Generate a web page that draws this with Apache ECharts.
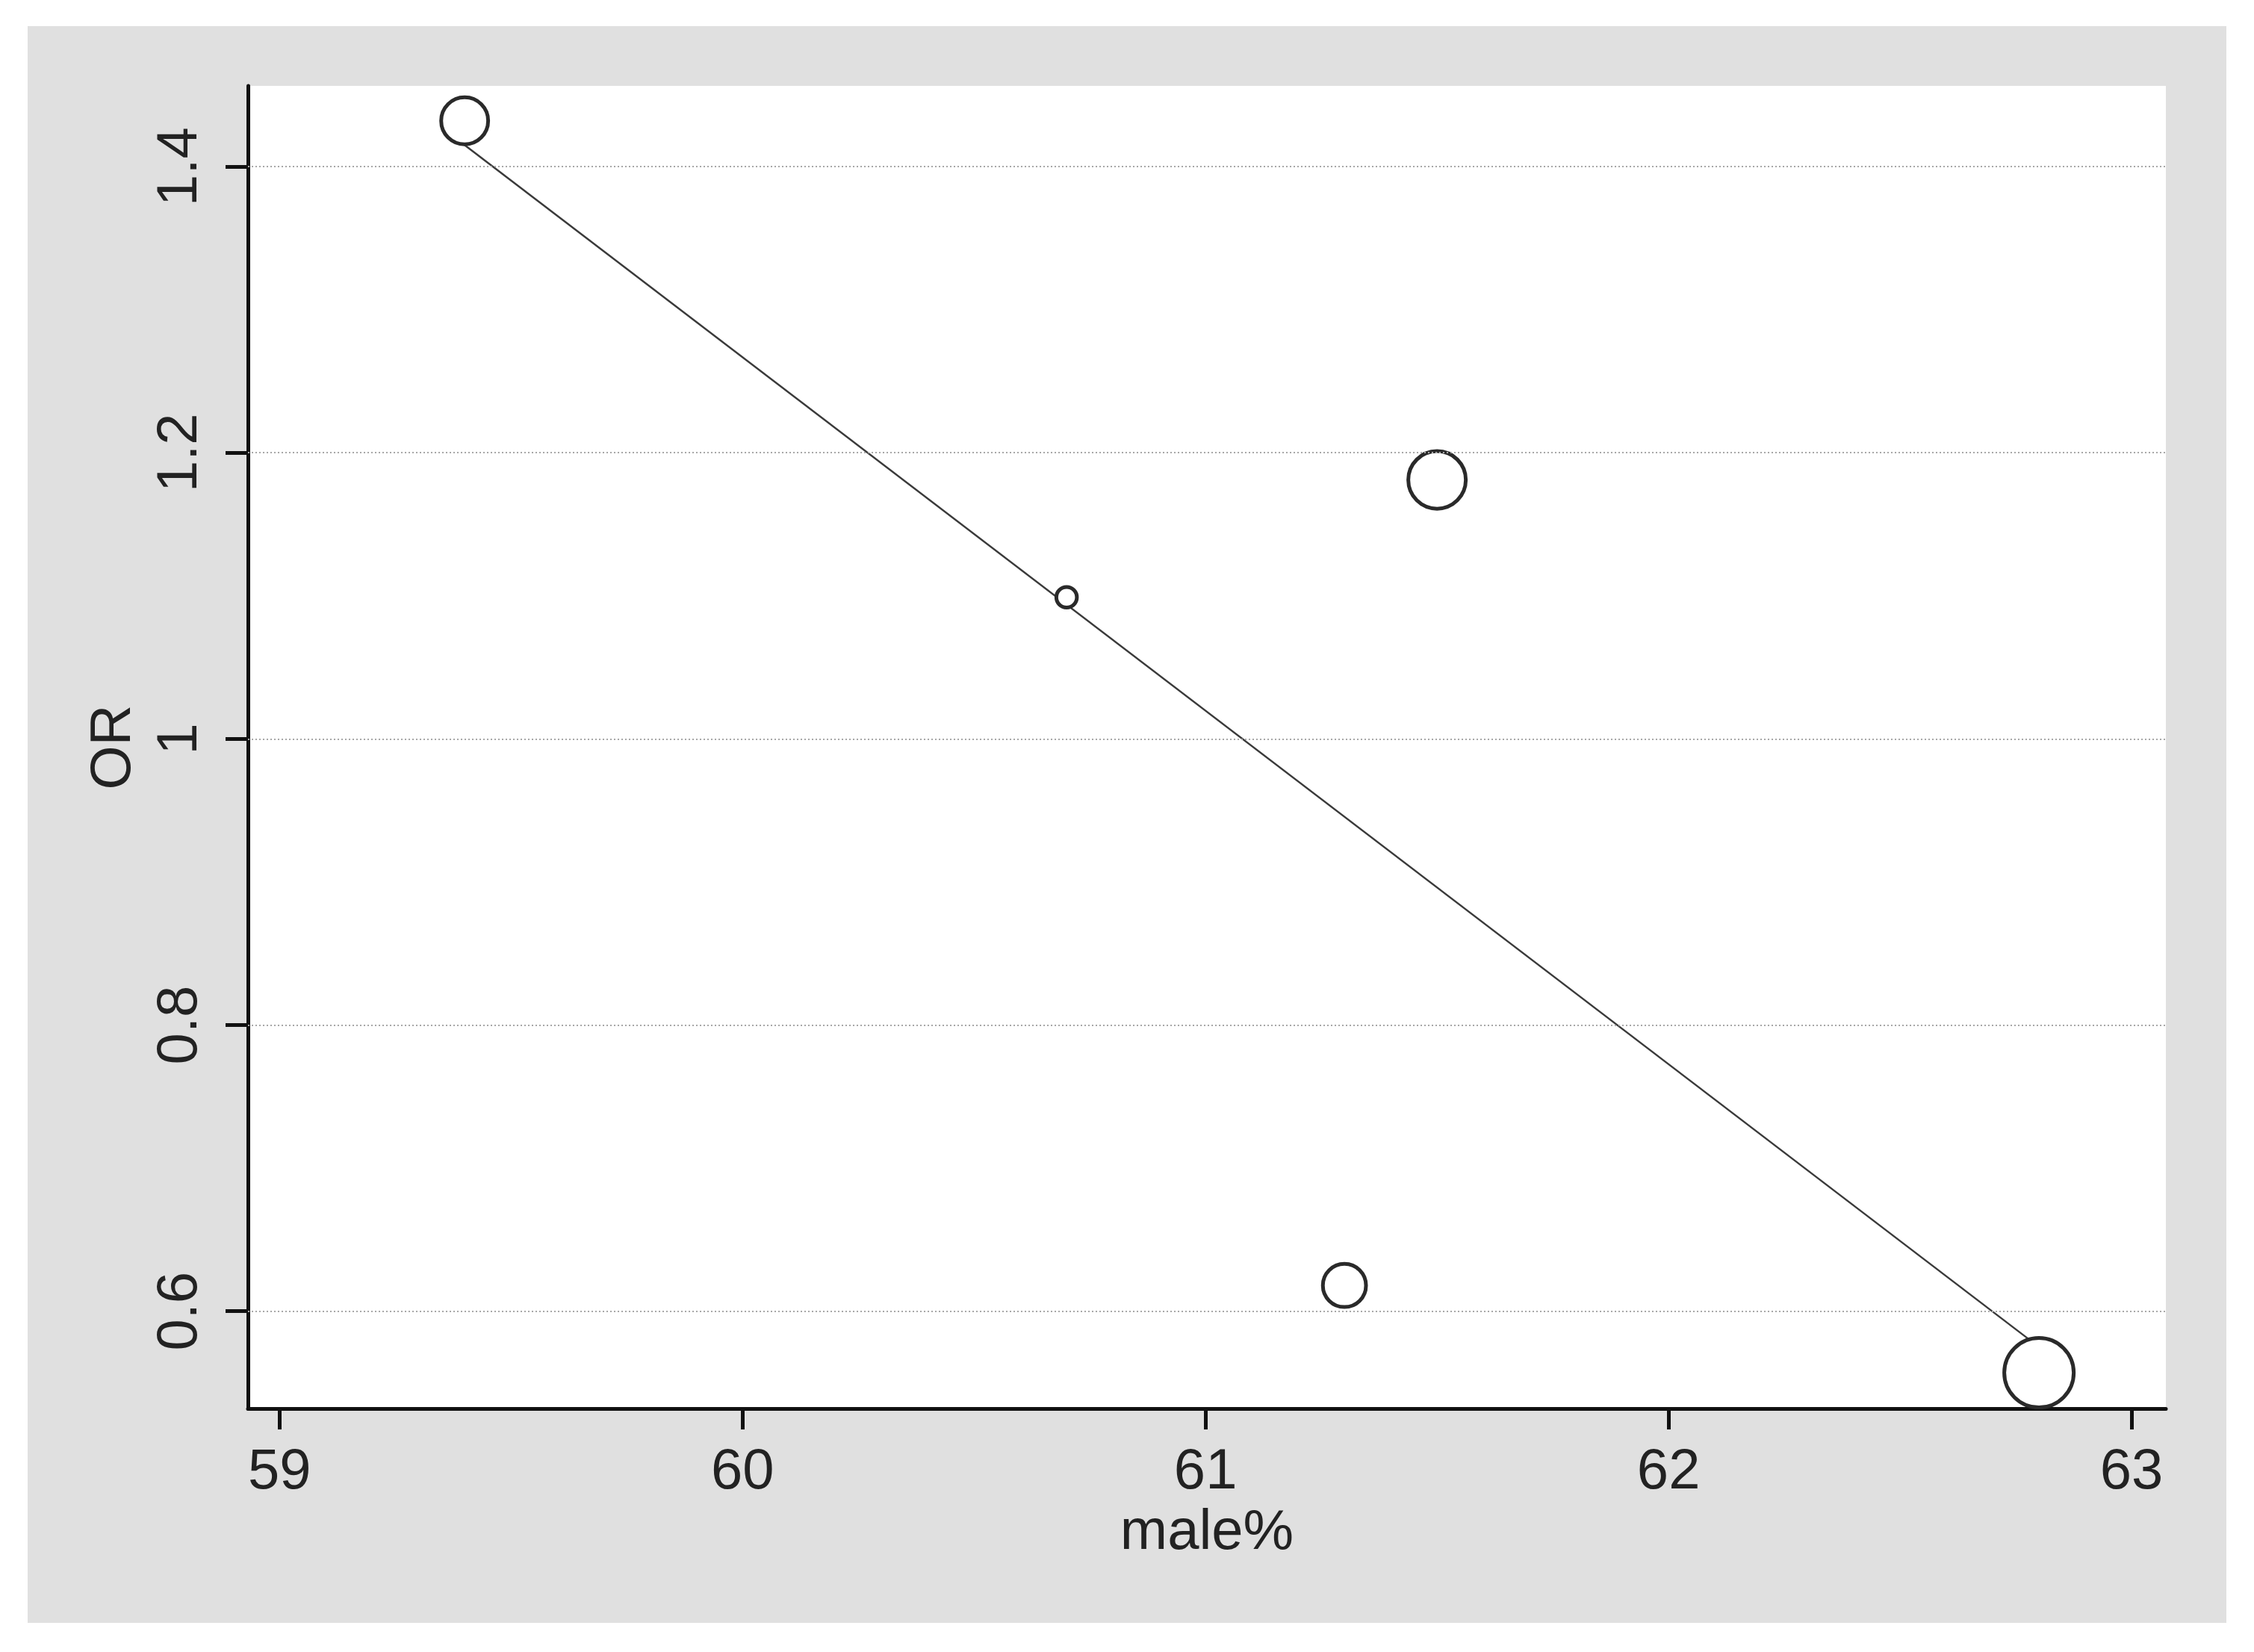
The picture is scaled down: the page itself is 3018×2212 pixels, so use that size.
<!DOCTYPE html>
<html>
<head>
<meta charset="utf-8">
<script src="https://cdn.jsdelivr.net/npm/echarts@6/dist/echarts.min.js"></script>
<style>
    html, body { margin: 0; padding: 0; background: #fff; }
    #chart { position: absolute; left: 37px; top: 35px; width: 2944px; height: 2138px; }
</style>
</head>
<body>
<div id="chart"></div>
<script>
// meta-regression: OR vs male%, marker size ~ study weight
var malePct = [59.4, 60.7, 61.5, 61.3, 62.8];
var orValues = [1.432, 1.099, 1.181, 0.618, 0.557];
var weights = [4.8, 1.1, 7.0, 4.1, 10.0];

// fitted line end points
var fitX = [59.4, 62.8];
var fitY = [1.415, 0.575];

var xTicks = [59, 60, 61, 62, 63];
var yTicks = [0.6, 0.8, 1, 1.2, 1.4];

var font = "'Liberation Sans', Arial, sans-serif";

var myChart = echarts.init(document.getElementById('chart'));

var points = malePct.map(function (x, i) { return [x, orValues[i], weights[i]]; });
var fitData = fitX.map(function (x, i) { return [x, fitY[i]]; });

option = {
    backgroundColor: '#e0e0e0',
    animation: false,
    grid: {
        left: 295,
        top: 80,
        right: 81,
        bottom: 287,
        show: true,
        backgroundColor: '#fff',
        borderWidth: 0,
        containLabel: false
    },
    xAxis: {
        type: 'value',
        min: 58.932,
        max: 63.074,
        name: 'male%',
        nameLocation: 'middle',
        nameGap: 107,
        nameTextStyle: { fontFamily: font, fontSize: 76, color: '#222' },
        axisLine: { onZero: false, lineStyle: { color: '#111', width: 5 } },
        axisTick: { show: true, length: 28, lineStyle: { color: '#111', width: 5 }, customValues: xTicks },
        axisLabel: { margin: 48, fontFamily: font, fontSize: 76, color: '#222', customValues: xTicks },
        splitLine: { show: false }
    },
    yAxis: {
        type: 'value',
        min: 0.532,
        max: 1.4564,
        name: 'OR',
        nameLocation: 'middle',
        nameRotate: 90,
        nameGap: 141,
        nameTextStyle: { fontFamily: font, fontSize: 76, color: '#222' },
        axisLine: { show: true, onZero: false, lineStyle: { color: '#111', width: 5 } },
        axisTick: { show: true, length: 30, lineStyle: { color: '#111', width: 5 }, customValues: yTicks },
        axisLabel: { rotate: 90, margin: 52, fontFamily: font, fontSize: 76, color: '#222', customValues: yTicks },
        splitLine: { show: false }
    },
    series: [
        {
            name: 'fit',
            type: 'line',
            data: fitData,
            symbol: 'none',
            z: 2,
            lineStyle: { color: '#3a3a3a', width: 2.5 },
            markLine: {
                silent: true,
                symbol: ['none', 'none'],
                label: { show: false },
                lineStyle: { color: '#a8a8a8', width: 2, type: [2, 3] },
                data: yTicks.map(function (v) { return { yAxis: v }; })
            }
        },
        {
            name: 'OR',
            type: 'scatter',
            data: points,
            z: 3,
            symbol: 'circle',
            symbolSize: function (d) { return 31 * Math.sqrt(d[2]) - 5; },
            itemStyle: { color: '#fff', borderColor: '#2a2a2a', borderWidth: 5, opacity: 1 }
        }
    ]
};

myChart.setOption(option);
</script>
</body>
</html>
